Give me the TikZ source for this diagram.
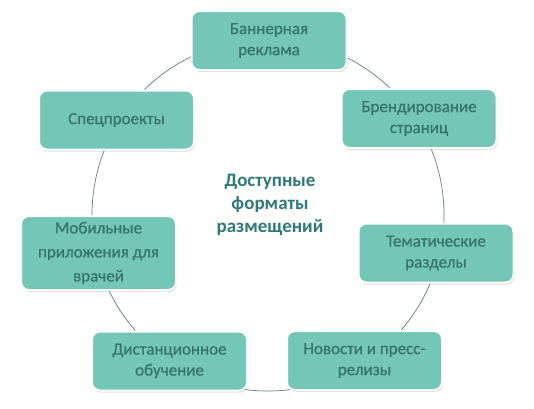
\documentclass[tikz,border=0pt]{standalone}
\usepackage{fontspec}
\setmainfont{Carlito}
\newfontfamily\boxfont[FakeBold=0.8]{Carlito}
\usetikzlibrary{shadows}
\definecolor{boxfill}{HTML}{72C7B6}
\definecolor{boxtext}{HTML}{3A736C}
\definecolor{titletext}{HTML}{2B7B78}
\definecolor{ringline}{HTML}{5E7F7A}

\begin{document}
\begin{tikzpicture}[x=1pt,y=-1pt,
  every node/.style={font=\boxfont\fontsize{17}{21}\selectfont},
  fmtbox/.style={rectangle,rounded corners=8pt,fill=boxfill,draw=white,line width=2pt,
    text=boxtext,align=center,minimum width=155pt,minimum height=59pt,inner sep=2pt,
    drop shadow={shadow xshift=1pt,shadow yshift=-2pt,opacity=0.25}}]
\useasboundingbox (0,0) rectangle (534,408);
% ring behind the boxes
\draw[ringline,line width=0.7pt] (268,215) circle[radius=176pt];
\node[font=\fontsize{19}{23}\selectfont\bfseries,text=titletext,align=center] (title) at (270,205) {Доступные\\форматы\\размещений};
\node[fmtbox] (banner) at (269,40.5) {Баннерная\\реклама};
\node[fmtbox] (brand) at (419,118.5) {Брендирование\\страниц};
\node[fmtbox] (topic) at (436,253) {Тематические\\разделы};
\node[fmtbox] (news) at (364.5,360.5) {Новости и пресс-\\релизы};
\node[fmtbox] (distance) at (169.5,361) {Дистанционное\\обучение};
\node[fmtbox,minimum height=74pt,font=\boxfont\fontsize{17}{24}\selectfont] (mobile) at (98.5,253) {Мобильные\\приложения для\\врачей};
\node[fmtbox] (special) at (116.5,120) {Спецпроекты};
\end{tikzpicture}
\end{document}
